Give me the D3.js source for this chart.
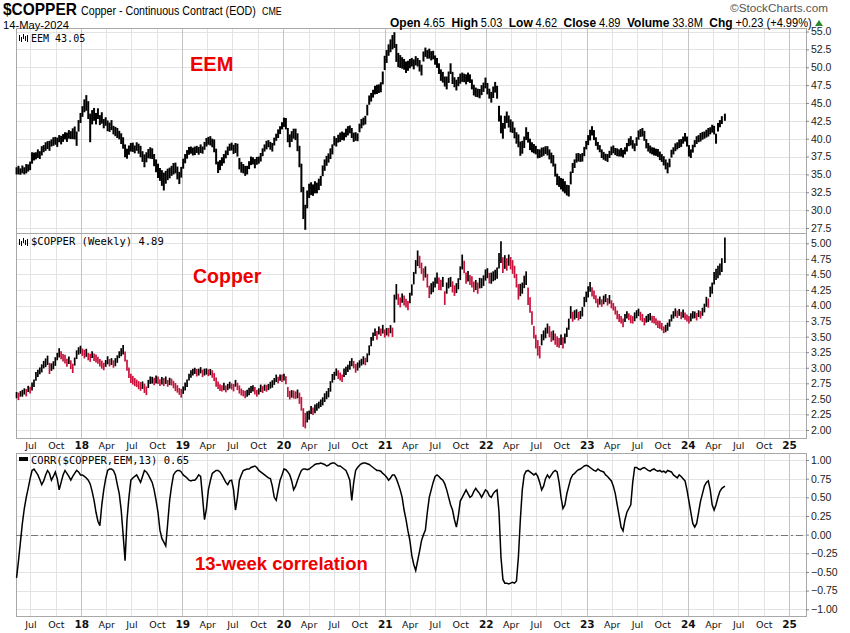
<!DOCTYPE html>
<html><head><meta charset="utf-8">
<script src="https://cdn.jsdelivr.net/npm/d3@7"></script>
<style>body{margin:0;background:#fff}svg{display:block}</style>
</head><body><svg id="c" width="850" height="633"></svg>
<script>
// ---------- DATA (weekly, starting week of 12-May-2017) ----------
const startDate = new Date(2017, 4, 12);
const lastDate = new Date(2024, 4, 14);

const eemClose = [
35.5,35.6,35.4,35.7,35.5,35.8,35.9,36.2,37.3,37.5,
37.6,37.9,37.7,38.3,38.6,38.9,39.1,39.0,39.4,39.6,
39.7,39.5,40.0,39.8,40.1,40.4,40.2,40.6,40.5,40.7,
40.8,40.0,41.8,42.9,43.8,44.6,45.0,44.0,41.5,43.0,
43.4,42.8,43.5,42.6,42.9,42.1,42.4,41.8,41.6,41.9,
41.2,41.0,40.8,40.5,40.0,39.4,38.3,37.9,38.4,38.8,
38.8,38.5,38.9,38.6,38.2,37.5,36.9,37.4,37.9,38.0,
37.9,37.0,36.2,35.5,35.0,34.5,34.0,34.6,35.0,35.2,
35.5,35.8,35.9,35.2,34.5,35.3,36.5,37.2,37.8,38.3,
38.4,38.2,38.3,38.5,38.3,38.6,38.4,39.0,39.5,39.7,
39.7,39.4,39.0,37.5,36.0,36.3,36.8,37.2,37.8,38.3,
38.8,38.9,38.5,38.7,38.4,36.5,36.0,35.8,35.5,35.6,
36.3,36.9,36.9,36.5,36.9,37.0,37.4,38.1,38.7,39.1,
39.3,39.0,38.8,39.6,40.2,40.7,41.2,41.8,42.3,42.1,
40.5,39.7,40.3,40.7,40.6,39.5,37.5,34.5,31.0,29.0,
31.5,32.7,33.0,32.8,33.2,33.1,33.6,34.1,35.5,36.3,
36.9,37.3,37.9,38.5,39.7,39.5,40.0,40.2,40.4,40.3,
40.8,41.1,41.3,40.8,40.2,40.3,40.2,41.5,42.1,42.4,
42.6,44.0,45.4,45.8,46.3,46.8,46.9,47.0,47.2,48.5,
50.6,51.5,52.4,53.0,53.5,53.8,52.0,51.0,50.8,50.6,
50.4,50.0,50.2,50.5,50.7,50.4,50.9,50.7,50.2,49.6,
51.5,52.1,51.8,51.9,51.6,51.7,51.0,50.6,49.8,48.9,
48.6,48.0,47.8,48.6,49.8,48.5,47.9,47.5,48.0,48.4,
48.6,48.5,48.3,48.6,48.4,47.6,46.8,46.5,46.4,46.3,
46.8,47.2,47.8,47.0,46.3,45.8,46.5,47.2,46.5,43.5,
42.0,41.1,42.3,43.0,42.4,41.8,41.6,40.8,40.1,39.7,
38.6,38.8,39.5,40.7,40.2,39.2,38.8,38.6,38.4,37.9,
37.9,38.1,38.2,38.4,38.3,37.8,37.3,36.9,35.6,34.3,
34.0,33.7,33.5,33.2,32.8,32.7,34.5,35.9,36.5,37.3,
37.4,37.3,37.4,38.2,39.1,39.8,40.5,41.1,40.5,39.6,
39.0,38.6,37.9,37.6,37.4,37.3,37.8,38.3,38.5,38.2,
38.1,38.0,38.1,37.9,38.3,38.8,39.5,39.7,39.2,38.8,
39.6,40.5,40.8,40.9,40.4,39.3,38.8,38.5,38.3,38.2,
38.1,38.0,37.6,37.3,36.9,36.4,35.9,36.6,37.9,38.3,
38.8,39.0,39.3,39.4,39.8,40.2,39.6,38.3,37.9,38.6,
39.3,39.8,40.0,40.2,40.4,40.5,40.7,40.9,41.1,41.4,
41.2,40.0,41.6,42.1,42.6,43.0
];
const eemRange = [
1.0,1.2,0.9,1.1,1.0,1.3,1.0,1.2,1.6,1.1,
1.0,1.2,1.1,1.3,1.0,1.2,1.1,1.4,1.0,1.2,
1.1,1.3,1.0,1.2,1.1,1.0,1.3,1.2,1.1,1.5,
1.8,2.0,1.6,1.4,1.5,1.8,2.2,2.5,4.0,2.0,
1.8,1.6,1.5,1.4,1.6,1.3,1.2,1.5,1.3,1.4,
1.2,1.3,1.4,1.2,1.5,1.6,1.8,1.4,1.3,1.2,
1.3,1.1,1.2,1.4,1.6,1.5,1.8,1.4,1.3,1.6,
1.5,1.7,1.8,2.0,1.8,2.2,2.5,1.8,1.6,1.5,
1.4,1.6,1.5,1.8,1.7,1.5,1.4,1.3,1.2,1.1,
1.0,1.1,1.2,1.0,1.1,1.2,1.0,1.1,1.2,1.1,
1.3,1.2,1.8,2.2,1.6,1.4,1.2,1.3,1.1,1.2,
1.0,1.1,1.3,1.4,1.8,1.6,1.5,1.3,1.4,1.2,
1.1,1.2,1.0,1.3,1.1,1.0,1.2,1.1,1.0,1.2,
1.0,1.1,1.2,1.1,1.0,1.2,1.1,1.0,1.3,1.6,
2.0,1.8,1.5,1.4,1.6,2.5,3.0,4.0,4.5,3.5,
2.5,2.0,1.8,1.6,1.7,1.5,1.6,1.4,1.5,1.6,
1.4,1.3,1.5,1.4,1.3,1.2,1.1,1.3,1.2,1.1,
1.2,1.3,1.1,1.4,1.3,1.2,1.1,1.2,1.3,1.1,
1.2,1.5,1.3,1.2,1.1,1.2,1.3,1.2,1.4,1.8,
2.0,1.8,1.6,1.8,2.0,2.2,2.5,2.0,1.8,1.6,
1.5,1.6,1.4,1.3,1.2,1.4,1.3,1.2,1.6,1.5,
1.4,1.3,1.2,1.4,1.3,1.2,1.3,1.4,1.5,1.6,
1.5,1.4,1.8,1.6,1.5,1.7,1.4,1.5,1.3,1.4,
1.3,1.2,1.4,1.3,1.2,1.4,1.5,1.3,1.2,1.3,
1.4,1.3,1.5,1.6,1.4,1.5,1.6,1.5,1.8,2.2,
2.5,2.2,1.8,1.6,1.7,1.8,1.6,1.5,1.6,1.8,
2.0,1.8,1.6,1.8,1.5,1.6,1.4,1.3,1.2,1.3,
1.2,1.3,1.2,1.1,1.3,1.4,1.5,1.6,1.8,1.6,
1.5,1.6,1.8,1.7,1.5,1.6,1.8,1.4,1.2,1.3,
1.2,1.1,1.2,1.3,1.2,1.4,1.5,1.3,1.4,1.2,
1.1,1.0,1.2,1.1,1.0,1.1,1.0,1.2,1.1,1.0,
1.1,1.0,1.2,1.1,1.0,1.2,1.1,1.3,1.2,1.1,
1.2,1.3,1.1,1.2,1.4,1.3,1.2,1.1,1.0,1.1,
1.0,1.1,1.2,1.1,1.3,1.4,1.5,1.2,1.1,1.0,
1.1,1.0,1.2,1.1,1.0,1.2,1.4,1.6,1.2,1.1,
1.0,1.1,1.0,1.2,1.1,1.0,1.1,1.2,1.0,1.1,
1.2,1.4,1.2,1.0,1.1,1.0
];

const cuClose = [
2.56,2.54,2.58,2.59,2.62,2.60,2.66,2.64,2.70,2.75,
2.86,2.91,2.95,2.99,3.05,3.08,3.12,2.99,3.01,3.04,
3.10,3.18,3.24,3.20,3.16,3.14,3.08,3.12,3.05,2.99,
3.10,3.21,3.27,3.29,3.25,3.22,3.24,3.18,3.16,3.21,
3.17,3.15,3.12,3.08,3.05,3.02,3.07,3.12,3.08,3.10,
3.06,3.09,3.14,3.21,3.25,3.29,3.18,3.04,2.92,2.83,
2.80,2.77,2.75,2.72,2.70,2.72,2.67,2.63,2.74,2.80,
2.80,2.78,2.81,2.80,2.76,2.79,2.77,2.80,2.75,2.78,
2.77,2.73,2.69,2.66,2.62,2.59,2.64,2.70,2.75,2.85,
2.90,2.93,2.95,2.92,2.93,2.96,2.91,2.93,2.94,2.92,
2.93,2.90,2.85,2.77,2.72,2.68,2.67,2.70,2.66,2.69,
2.72,2.70,2.68,2.75,2.70,2.65,2.61,2.59,2.57,2.59,
2.62,2.65,2.67,2.63,2.59,2.62,2.67,2.65,2.68,2.67,
2.69,2.72,2.74,2.78,2.83,2.80,2.84,2.83,2.85,2.80,
2.61,2.56,2.58,2.57,2.56,2.58,2.51,2.42,2.20,2.15,
2.21,2.24,2.32,2.30,2.34,2.37,2.40,2.43,2.46,2.52,
2.56,2.60,2.70,2.83,2.87,2.93,2.89,2.86,2.83,2.92,
2.95,2.99,3.04,3.09,3.05,2.99,3.02,3.06,3.09,3.12,
3.10,3.16,3.28,3.42,3.50,3.57,3.52,3.60,3.57,3.62,
3.55,3.58,3.57,3.62,3.57,3.95,4.22,4.10,4.05,4.12,
4.08,4.04,4.00,4.12,4.25,4.44,4.62,4.76,4.70,4.60,
4.50,4.54,4.40,4.22,4.27,4.30,4.37,4.44,4.35,4.33,
4.38,4.12,4.28,4.36,4.38,4.30,4.24,4.28,4.35,4.52,
4.70,4.62,4.44,4.47,4.41,4.38,4.30,4.33,4.28,4.36,
4.36,4.40,4.49,4.52,4.44,4.44,4.47,4.49,4.52,4.72,
4.86,4.65,4.70,4.66,4.73,4.68,4.62,4.54,4.40,4.22,
4.25,4.28,4.38,4.44,4.15,4.01,3.80,3.57,3.42,3.32,
3.25,3.45,3.52,3.56,3.63,3.58,3.50,3.52,3.46,3.42,
3.40,3.45,3.40,3.47,3.57,3.70,3.89,3.82,3.85,3.87,
3.83,3.85,3.90,4.06,4.14,4.22,4.30,4.22,4.17,4.10,
4.04,4.08,4.04,4.09,4.12,4.06,4.10,4.02,3.98,3.92,
3.85,3.80,3.77,3.72,3.80,3.85,3.82,3.78,3.77,3.82,
3.86,3.89,3.83,3.80,3.74,3.78,3.80,3.82,3.78,3.77,
3.74,3.70,3.69,3.66,3.61,3.63,3.66,3.72,3.80,3.85,
3.89,3.86,3.89,3.84,3.87,3.83,3.80,3.77,3.81,3.85,
3.85,3.82,3.87,3.85,3.90,3.96,4.06,4.04,4.22,4.28,
4.44,4.50,4.54,4.58,4.65,4.89
];
const cuRange = [
.10,.12,.09,.11,.10,.12,.10,.11,.13,.12,
.14,.12,.11,.13,.12,.14,.15,.18,.12,.13,
.14,.12,.15,.13,.12,.14,.13,.12,.14,.15,
.13,.14,.12,.13,.12,.14,.13,.12,.13,.11,
.12,.13,.11,.12,.13,.12,.11,.13,.12,.11,
.12,.13,.12,.11,.13,.15,.16,.18,.17,.15,
.14,.13,.12,.13,.14,.12,.15,.14,.13,.12,
.11,.12,.13,.12,.11,.12,.13,.12,.11,.12,
.11,.12,.13,.12,.11,.14,.12,.13,.12,.11,
.12,.11,.10,.12,.11,.10,.12,.11,.10,.11,
.10,.12,.13,.15,.12,.11,.10,.12,.11,.10,
.11,.10,.12,.11,.12,.13,.11,.10,.12,.11,
.12,.11,.10,.12,.11,.10,.12,.11,.10,.11,
.10,.11,.12,.11,.12,.11,.10,.12,.11,.13,
.16,.14,.12,.13,.12,.14,.18,.22,.30,.25,
.18,.15,.13,.12,.14,.12,.11,.12,.13,.14,
.13,.15,.17,.14,.13,.12,.14,.13,.12,.14,
.13,.12,.14,.13,.12,.14,.13,.12,.11,.13,
.12,.14,.16,.15,.13,.12,.14,.13,.12,.14,
.13,.12,.14,.13,.15,.45,.25,.18,.16,.15,
.16,.14,.15,.17,.18,.20,.22,.25,.20,.18,
.20,.18,.22,.20,.18,.17,.16,.18,.20,.17,
.16,.22,.18,.17,.16,.18,.17,.16,.18,.22,
.24,.20,.18,.17,.16,.18,.17,.16,.18,.17,
.16,.17,.18,.16,.17,.18,.16,.17,.18,.25,
.35,.25,.22,.20,.18,.20,.22,.20,.22,.25,
.20,.18,.20,.22,.28,.25,.22,.20,.22,.25,
.20,.18,.16,.17,.16,.18,.17,.16,.18,.17,
.16,.17,.18,.16,.15,.18,.20,.16,.15,.14,
.14,.13,.15,.16,.17,.18,.16,.15,.14,.13,
.14,.13,.12,.14,.13,.12,.14,.13,.12,.13,
.14,.13,.12,.14,.13,.12,.11,.13,.12,.14,
.13,.12,.14,.13,.12,.11,.13,.12,.11,.12,
.11,.12,.13,.12,.11,.12,.13,.12,.11,.12,
.13,.12,.11,.12,.13,.12,.11,.12,.13,.12,
.11,.12,.11,.12,.13,.14,.16,.15,.17,.18,
.20,.18,.20,.19,.22,.41
];

const corr = [
-0.58,-0.35,-0.10,0.15,0.35,0.50,0.62,0.75,0.86,0.88,
0.84,0.80,0.74,0.67,0.72,0.80,0.86,0.82,0.73,0.78,
0.84,0.75,0.60,0.70,0.80,0.86,0.82,0.78,0.73,0.78,
0.82,0.86,0.84,0.80,0.80,0.78,0.76,0.73,0.68,0.58,
0.46,0.30,0.18,0.12,0.40,0.60,0.75,0.86,0.88,0.88,
0.86,0.80,0.67,0.55,0.33,0.00,-0.35,0.20,0.50,0.73,
0.76,0.78,0.80,0.75,0.70,0.78,0.86,0.84,0.80,0.75,
0.70,0.60,0.46,0.30,0.06,-0.05,-0.10,-0.15,0.15,0.46,
0.65,0.80,0.84,0.86,0.86,0.84,0.80,0.78,0.76,0.73,
0.72,0.73,0.73,0.76,0.80,0.78,0.50,0.20,0.35,0.60,
0.72,0.82,0.84,0.86,0.86,0.84,0.80,0.75,0.70,0.67,
0.72,0.73,0.60,0.33,0.50,0.73,0.80,0.86,0.87,0.88,
0.88,0.90,0.91,0.92,0.90,0.86,0.84,0.82,0.80,0.78,
0.76,0.75,0.65,0.50,0.46,0.60,0.73,0.80,0.88,0.87,
0.84,0.80,0.72,0.60,0.65,0.73,0.80,0.86,0.88,0.88,
0.87,0.88,0.90,0.92,0.94,0.95,0.95,0.96,0.95,0.94,
0.92,0.93,0.95,0.96,0.96,0.94,0.92,0.92,0.90,0.88,
0.86,0.80,0.73,0.46,0.70,0.86,0.90,0.93,0.95,0.96,
0.96,0.95,0.94,0.92,0.90,0.88,0.86,0.86,0.85,0.82,
0.80,0.77,0.73,0.76,0.80,0.80,0.75,0.68,0.60,0.50,
0.33,0.20,0.05,-0.08,-0.28,-0.40,-0.48,-0.35,-0.22,-0.08,
0.00,0.06,0.30,0.50,0.60,0.70,0.78,0.80,0.78,0.75,
0.73,0.68,0.60,0.50,0.40,0.33,0.20,0.10,0.25,0.45,
0.50,0.55,0.60,0.55,0.50,0.52,0.58,0.62,0.58,0.55,
0.50,0.55,0.60,0.58,0.52,0.50,0.55,0.58,0.60,0.30,
-0.30,-0.60,-0.65,-0.65,-0.66,-0.65,-0.64,-0.65,-0.62,-0.30,
0.20,0.60,0.80,0.85,0.86,0.84,0.82,0.80,0.82,0.78,
0.70,0.60,0.65,0.75,0.80,0.76,0.80,0.84,0.86,0.84,
0.70,0.50,0.35,0.40,0.55,0.65,0.75,0.80,0.82,0.85,
0.87,0.88,0.90,0.92,0.93,0.92,0.90,0.88,0.86,0.85,
0.88,0.86,0.85,0.84,0.80,0.78,0.75,0.72,0.65,0.55,
0.40,0.25,0.10,0.05,0.20,0.30,0.35,0.40,0.70,0.90,
0.90,0.88,0.87,0.89,0.90,0.88,0.86,0.85,0.87,0.88,
0.86,0.85,0.86,0.84,0.85,0.83,0.86,0.85,0.84,0.80,
0.78,0.76,0.80,0.78,0.75,0.72,0.60,0.45,0.30,0.15,
0.10,0.15,0.30,0.45,0.55,0.65,0.70,0.72,0.60,0.40,
0.33,0.40,0.50,0.58,0.62,0.65
];

const eemTicks = [27.5,30.0,32.5,35.0,37.5,40.0,42.5,45.0,47.5,50.0,52.5,55.0];
const cuTicks = [2.00,2.25,2.50,2.75,3.00,3.25,3.50,3.75,4.00,4.25,4.50,4.75,5.00];
const corrTicks = [-1.00,-0.75,-0.50,-0.25,0.00,0.25,0.50,0.75,1.00];
const quarterStarts = ["2017-07-01","2017-10-01","2018-01-01","2018-04-01","2018-07-01","2018-10-01",
 "2019-01-01","2019-04-01","2019-07-01","2019-10-01","2020-01-01","2020-04-01","2020-07-01","2020-10-01",
 "2021-01-01","2021-04-01","2021-07-01","2021-10-01","2022-01-01","2022-04-01","2022-07-01","2022-10-01",
 "2023-01-01","2023-04-01","2023-07-01","2023-10-01","2024-01-01","2024-04-01","2024-07-01","2024-10-01",
 "2025-01-01"];
const quarterLabels = ["Jul","Oct","18","Apr","Jul","Oct","19","Apr","Jul","Oct","20","Apr","Jul","Oct",
 "21","Apr","Jul","Oct","22","Apr","Jul","Oct","23","Apr","Jul","Oct","24","Apr","Jul","Oct","25"];

// ---------- LAYOUT ----------
const svg = d3.select("#c");
const L = 16, R = 806;
const P1 = {top: 28, bottom: 233}, P2 = {top: 233, bottom: 438}, P3 = {top: 453, bottom: 616};

const dates = eemClose.map((_, i) => i === eemClose.length - 1 ? lastDate : d3.timeDay.offset(startDate, 7 * i));
const parse = d3.timeParse("%Y-%m-%d");
const qDates = quarterStarts.map(parse);

const x = d3.scaleTime().domain([new Date(2017, 4, 10), new Date(2025, 2, 3)]).range([L, R]);
const yE = d3.scaleLinear().domain([26.80, 55.49]).range([P1.bottom, P1.top]);
const yC = d3.scaleLinear().domain([1.871, 5.166]).range([P2.bottom, P2.top]);
const yR = d3.scaleLinear().domain([-1.09, 1.094]).range([P3.bottom, P3.top]);

const gridCol = "#e3e3e3", yearCol = "#c4c4c4", frameCol = "#a8a8a8";
const axisFont = "'Liberation Sans', Arial, sans-serif";
const legendFont = "'DejaVu Sans Mono', monospace";
const hdrFont = "'Liberation Sans', Arial, sans-serif";

function panel(P, y, ticks, fmt) {
  const g = svg.append("g");
  g.selectAll("line.h").data(ticks).join("line")
    .attr("x1", L).attr("x2", R)
    .attr("y1", d => Math.round(y(d)) + 0.5).attr("y2", d => Math.round(y(d)) + 0.5)
    .attr("stroke", gridCol).attr("stroke-width", 1);
  g.selectAll("line.v").data(qDates).join("line")
    .attr("x1", d => Math.round(x(d)) + 0.5).attr("x2", d => Math.round(x(d)) + 0.5)
    .attr("y1", P.top).attr("y2", P.bottom)
    .attr("stroke", (d, i) => quarterLabels[i].length === 2 ? yearCol : gridCol).attr("stroke-width", 1);
  g.append("rect").attr("x", L + 0.5).attr("y", P.top + 0.5)
    .attr("width", R - L).attr("height", P.bottom - P.top)
    .attr("fill", "none").attr("stroke", frameCol);
  const ax = svg.append("g").attr("transform", `translate(${R},0)`)
    .call(d3.axisRight(y).tickValues(ticks).tickSize(3).tickPadding(2).tickFormat(fmt));
  ax.select(".domain").remove();
  ax.selectAll("line").attr("stroke", "#888");
  ax.selectAll("text").attr("font-family", axisFont).attr("font-size", 10.5).attr("fill", "#222");
  return g;
}

panel(P1, yE, eemTicks, d3.format(".1f"));
panel(P2, yC, cuTicks, d3.format(".2f"));
panel(P3, yR, corrTicks, d3.format(".2f"));

svg.append("line").attr("x1", L).attr("x2", R)
  .attr("y1", Math.round(yR(0)) + 0.5).attr("y2", Math.round(yR(0)) + 0.5)
  .attr("stroke", "#777").attr("stroke-width", 1).attr("stroke-dasharray", "7,3,2,3");

function xLabels(yBase) {
  const ax = svg.append("g").attr("transform", `translate(0,${yBase})`)
    .call(d3.axisBottom(x).tickValues(qDates).tickSize(0).tickPadding(0)
      .tickFormat((d, i) => quarterLabels[i]));
  ax.select(".domain").remove();
  ax.selectAll("text")
    .attr("font-family", "'DejaVu Sans', Verdana, sans-serif")
    .attr("font-size", (d, i) => quarterLabels[i].length === 2 ? 10.5 : 9.5)
    .attr("font-weight", (d, i) => quarterLabels[i].length === 2 ? "bold" : "normal")
    .attr("fill", "#111").attr("dy", "0").attr("y", 0);
}
xLabels(449);
xLabels(628);

// EEM bars
svg.append("g").selectAll("line").data(eemClose).join("line")
  .attr("x1", (d, i) => x(dates[i])).attr("x2", (d, i) => x(dates[i]))
  .attr("y1", (d, i) => yE(d + eemRange[i] / 2)).attr("y2", (d, i) => yE(d - eemRange[i] / 2))
  .attr("stroke", "#000").attr("stroke-width", 2);

// Copper bars
const red = "#c8123c";
svg.append("g").selectAll("line").data(cuClose).join("line")
  .attr("x1", (d, i) => x(dates[i])).attr("x2", (d, i) => x(dates[i]))
  .attr("y1", (d, i) => yC(d + cuRange[i] / 2)).attr("y2", (d, i) => yC(d - cuRange[i] / 2))
  .attr("stroke", (d, i) => (i > 0 && d < cuClose[i - 1]) ? red : "#000").attr("stroke-width", 1.7);

// Correlation line
svg.append("path").datum(corr)
  .attr("d", d3.line().x((d, i) => x(dates[i])).y(d => yR(d)))
  .attr("fill", "none").attr("stroke", "#000").attr("stroke-width", 1.5);

// ---------- TEXT ----------
function icon(px, py) {
  const g = svg.append("g").attr("stroke", "#000").attr("stroke-width", 1);
  [[0, 1, 7], [2, 3, 8], [4, 0, 5], [6, 2, 7], [8, 1, 8]].forEach(([dx, a, b]) =>
    g.append("line").attr("x1", px + dx + 0.5).attr("x2", px + dx + 0.5).attr("y1", py + a).attr("y2", py + b));
}
icon(19, 34);
svg.append("text").attr("x", 31).attr("y", 41.5).attr("font-family", legendFont).attr("font-size", 10)
  .text("EEM 43.05");
icon(19, 238);
svg.append("text").attr("x", 31).attr("y", 244.5).attr("font-family", legendFont).attr("font-size", 10.5)
  .text("$COPPER (Weekly) 4.89");
svg.append("rect").attr("x", 19).attr("y", 457).attr("width", 9).attr("height", 4).attr("fill", "#000");
svg.append("text").attr("x", 31).attr("y", 464).attr("font-family", legendFont).attr("font-size", 10.5)
  .text("CORR($COPPER,EEM,13) 0.65");

const ann = "'Liberation Sans', Arial, sans-serif";
svg.append("text").attr("x", 190).attr("y", 71).attr("font-family", ann).attr("font-weight", "bold")
  .attr("font-size", 20).attr("fill", "#e00").text("EEM");
svg.append("text").attr("x", 193).attr("y", 283).attr("font-family", ann).attr("font-weight", "bold")
  .attr("font-size", 19.5).attr("fill", "#e00").text("Copper");
svg.append("text").attr("x", 195).attr("y", 570).attr("font-family", ann).attr("font-weight", "bold")
  .attr("font-size", 18.5).attr("fill", "#e00").text("13-week correlation");

// header texts, condensed horizontally to the reference widths
function fitText(sel, x0, w) {
  const bb = sel.node().getBBox();
  const k = w / bb.width;
  sel.attr("transform", `translate(${x0},0) scale(${k},1) translate(${-bb.x},0)`);
}
const t1 = svg.append("text").attr("x", 0).attr("y", 15.5).attr("font-family", hdrFont)
  .attr("font-size", 16.5).attr("font-weight", "bold").text("$COPPER");
fitText(t1, 3, 74);
const t2 = svg.append("text").attr("x", 0).attr("y", 15.5).attr("font-family", hdrFont)
  .attr("font-size", 12.5).text("Copper - Continuous Contract (EOD)");
fitText(t2, 81, 175);
const t3 = svg.append("text").attr("x", 0).attr("y", 15.5).attr("font-family", hdrFont)
  .attr("font-size", 10).text("CME");
fitText(t3, 262, 20);
const t4 = svg.append("text").attr("x", 0).attr("y", 29.2).attr("font-family", hdrFont)
  .attr("font-size", 11).text("14-May-2024");
fitText(t4, 3, 66);
const t5 = svg.append("text").attr("x", 0).attr("y", 12).attr("font-family", hdrFont)
  .attr("font-size", 11.5).attr("fill", "#555").text("\u00A9StockCharts.com");
fitText(t5, 730, 98);

const quote = [["Open", "4.65"], ["High", "5.03"], ["Low", "4.62"], ["Close", "4.89"], ["Volume", "33.8M"], ["Chg", "+0.23 (+4.99%)"]];
const q = svg.append("text").attr("x", 0).attr("y", 27).attr("font-family", hdrFont).attr("font-size", 13);
quote.forEach(([k, v], i) => {
  q.append("tspan").attr("font-weight", "bold").attr("dx", i ? 7 : 0).text(k);
  q.append("tspan").attr("dx", 3).attr("font-size", 12).text(v);
});
fitText(q, 390, 422);
svg.append("path").attr("d", "M815,26 L819,20 L823,26 Z").attr("fill", "#2a8a2a");
</script>
</body></html>
